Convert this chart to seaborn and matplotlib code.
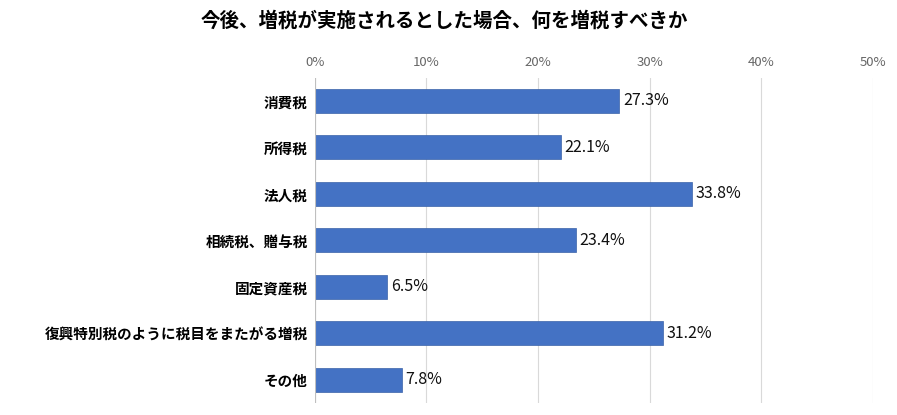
import matplotlib
matplotlib.use("Agg")
import matplotlib.pyplot as plt
import seaborn as sns
import pandas as pd

plt.rcParams["font.family"] = "Noto Sans CJK JP"

# data
categories = ["消費税", "所得税", "法人税", "相続税、贈与税", "固定資産税",
              "復興特別税のように税目をまたがる増税", "その他"]
values = [27.3, 22.1, 33.8, 23.4, 6.5, 31.2, 7.8]
ticks = [0, 10, 20, 30, 40, 50]
title = "今後、増税が実施されるとした場合、何を増税すべきか"

df = pd.DataFrame({"cat": categories, "val": values})

fig = plt.figure(figsize=(8.97, 4.15), dpi=100)
ax = fig.add_axes([0.351, 0.029, 0.622, 0.784])
sns.barplot(data=df, x="val", y="cat", color="#4472C4", saturation=1, width=0.52,
            edgecolor="#3a62a8", linewidth=0.5, ax=ax, zorder=3)

for i, v in enumerate(values):
    ax.text(v + 0.3, i, f"{v}%", va="center", ha="left", fontsize=11.5, color="#111")

ax.set_xlim(0, 50)
ax.set_xticks(ticks)
ax.set_xticklabels([f"{t}%" for t in ticks], color="#666", fontsize=9.5)
ax.xaxis.tick_top()
ax.tick_params(axis="x", length=0, pad=6)
ax.tick_params(axis="y", length=0, pad=5)
for lab in ax.get_yticklabels():
    lab.set_fontweight("bold")
    lab.set_fontsize(10.5)
ax.grid(axis="x", color="#d9d9d9", linewidth=0.8, zorder=0)
ax.set_xlabel("")
ax.set_ylabel("")
for s in ax.spines.values():
    s.set_visible(False)
ax.axvline(0, color="#bfbfbf", linewidth=0.8, zorder=4)

fig.text(0.495, 0.95, title, ha="center", va="center", fontsize=14, fontweight="bold")

fig.savefig("out.png", dpi=100)
